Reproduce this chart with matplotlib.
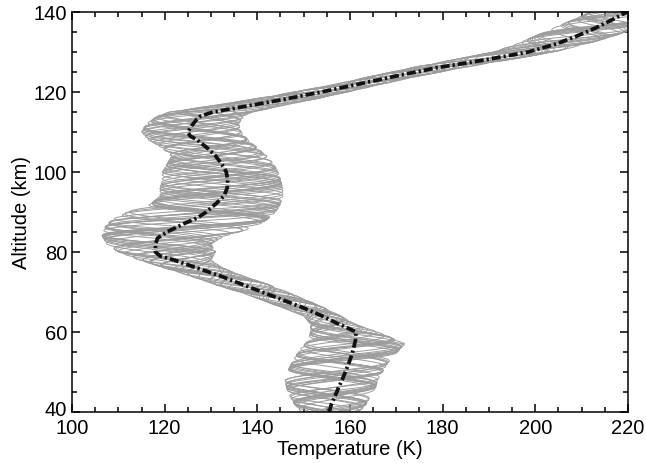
import matplotlib.pyplot as plt
import matplotlib.transforms as mtransforms
import numpy as np

plt.rcParams['font.family'] = ['Liberation Sans', 'DejaVu Sans']

# mean temperature profile (black dash-dot)
mean_alt = [40, 42, 44, 46, 48, 50, 52, 54, 56, 58, 60, 61, 62, 64, 66, 68, 70, 72, 74, 76,
            78, 79, 80, 82, 83.5, 85, 87, 88.5, 90, 92, 94, 96, 98, 100, 102, 104, 106, 108,
            109, 110, 111.5, 113, 114, 115, 116.5, 118, 120, 122, 124, 126, 128, 130, 132,
            134, 136, 138, 140]
mean_temp = [155.5, 156, 156.8, 157.5, 158.3, 159, 159.7, 160.3, 160.8, 161.2, 161.3, 159.5,
             157.5, 154, 150, 145.5, 141, 136.5, 132, 127, 122, 119, 118, 118, 118.5, 120.5,
             124, 127, 129, 131, 132.8, 133.5, 133.6, 133.3, 132.3, 131, 129.2, 127, 125.5,
             125, 125.8, 126.8, 127.8, 130.5, 137.8, 145, 153.8, 162, 170, 178.5, 189, 198.5,
             204.5, 209, 213, 216.5, 219.8]

# spread of the individual profiles (left / right edge of the grey band)
env_alt = [40, 42, 44, 46, 48, 50, 52, 54, 56, 57, 58, 60, 62, 64, 66, 68, 70, 72, 74, 76,
           78, 80, 82, 84, 86, 88, 90, 92, 94, 96, 98, 100, 102, 104, 106, 108, 110, 112,
           114, 115, 116, 118, 120, 122, 124, 126, 128, 130, 132, 134, 136, 138, 140]
env_lo = [149.5, 148, 147, 146.3, 146, 146.5, 147.3, 148.3, 149.5, 150.3, 151, 151.5, 151.5,
          150, 145.5, 141, 136, 130.5, 125.5, 120, 114.5, 110, 107.5, 106.5, 107, 108.5, 112,
          117, 119, 119, 119.5, 119.5, 120.5, 121.5, 119.5, 116.5, 115, 116, 118.5, 121, 127,
          138, 148, 157, 165, 173, 182, 191, 196, 200, 204, 208, 212]
env_hi = [162, 163.5, 164.5, 165.5, 166, 167, 168, 169.5, 171, 172, 170, 166, 161, 158, 154.5,
          150.5, 146.5, 142, 137, 132.5, 130, 131, 130, 133, 139, 142, 144, 145, 145.5, 145.5,
          145, 144.5, 143.5, 142, 140, 138, 136.5, 136, 137, 139, 143, 151.5, 159.5, 167, 175,
          184, 194, 204, 211, 217, 222, 226, 229]

# phase (degrees) and vertical wavelength (km) of each grey profile
phases = [0, 17, 33, 52, 68, 85, 101, 120, 137, 153, 170, 188, 205, 221, 239, 256, 272,
          290, 307, 323, 341]
wavelengths = [8.0, 9.5, 8.5, 10.0, 9.0, 8.2, 9.8, 8.8, 10.2, 9.2, 8.4, 9.6, 8.6, 10.4,
               9.4, 8.0, 9.9, 8.9, 10.1, 9.1, 8.3]

fig = plt.figure(figsize=(6.46, 4.64), dpi=100)
ax = fig.add_axes([0.1115, 0.11, 0.8605, 0.862])

z = np.linspace(40, 140, 800)
lo = np.interp(z, env_alt, env_lo)
hi = np.interp(z, env_alt, env_hi)
for p, lam in zip(phases, wavelengths):
    w = 0.5 + 0.5 * np.cos(2 * np.pi * z / lam + np.radians(p))
    ax.plot(lo + (hi - lo) * w, z, color='#9c9c9c', lw=0.7)

ax.plot(mean_temp, mean_alt, color='#111111', lw=2.7,
        linestyle=(0, (2.4, 0.8, 0.6, 0.8)))

ax.set_xlim(100, 220)
ax.set_ylim(40, 140)
ax.set_xticks(np.arange(100, 221, 20))
ax.set_yticks(np.arange(40, 141, 20))
ax.set_xticks(np.arange(100, 221, 5), minor=True)
ax.set_yticks(np.arange(40, 141, 5), minor=True)
ax.tick_params(which='both', direction='in', top=True, right=True, labelsize=14.5, width=1.1)
ax.tick_params(which='major', length=6)
ax.tick_params(which='minor', length=3.5)
ax.tick_params(axis='x', which='major', pad=4.5)
for s in ax.spines.values():
    s.set_linewidth(1.1)
ax.set_xlabel('Temperature (K)', fontsize=14.5, labelpad=1)
ax.set_ylabel('Altitude (km)', fontsize=14.5, labelpad=2)

# lift the "40" label a little so it clears the "100" below it
lab = ax.yaxis.get_major_ticks()[0].label1
lab.set_transform(lab.get_transform() + mtransforms.ScaledTranslation(0, 3 / 72, fig.dpi_scale_trans))

fig.savefig('out.png', dpi=100)
